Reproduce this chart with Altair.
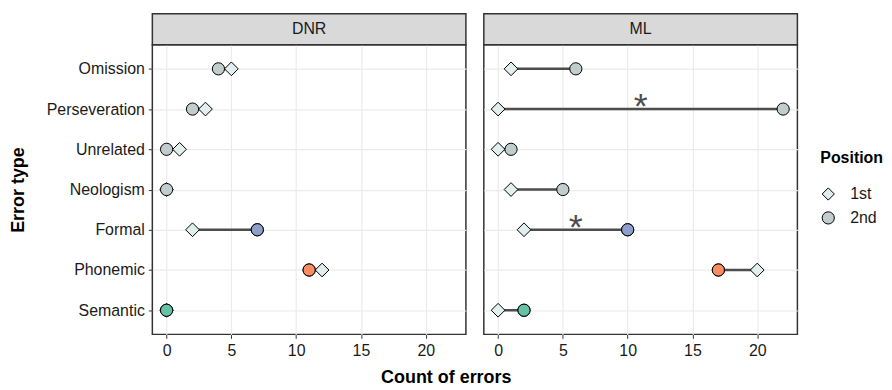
import altair as alt
import pandas as pd

# ---- data ----
error_types = ["Omission", "Perseveration", "Unrelated", "Neologism", "Formal", "Phonemic", "Semantic"]
panels = ["DNR", "ML"]
dnr_first = [5, 3, 1, 0, 2, 12, 0]
dnr_second = [4, 2, 0, 0, 7, 11, 0]
ml_first = [1, 0, 0, 1, 2, 20, 0]
ml_second = [6, 22, 1, 5, 10, 17, 2]
positions = ["1st", "2nd"]
position_fills = ["#E0EEEE", "#C1CDCD"]
position_sizes = [190, 150]
highlight_types = ["Formal", "Phonemic", "Semantic"]
highlight_colors = ["#8DA0CB", "#FC8D62", "#66C2A5"]
significant_dnr = []
significant_ml = ["Perseveration", "Formal"]
x_ticks = [0, 5, 10, 15, 20]

FONT = "Liberation Sans"
W, H, STRIP = 315, 291, 31
XDOM = [-1.1, 23.1]


def panel_chart(name, first, second, significant, show_y):
    seg = pd.DataFrame({"type": error_types, "first": first, "second": second})
    sig = seg[seg["type"].isin(significant)].copy()
    sig["mid"] = (sig["first"] + sig["second"]) / 2
    sig["label"] = "*"

    xscale = alt.Scale(domain=XDOM, nice=False, zero=False)
    yscale = alt.Scale(type="point", domain=error_types, padding=0.6)
    xaxis = alt.Axis(values=x_ticks, title=None, grid=True)
    if show_y:
        yaxis = alt.Axis(title="Error type", grid=True, titlePadding=19)
    else:
        yaxis = alt.Axis(title=None, labels=False, ticks=False, grid=True)

    shape_scale = alt.Scale(domain=positions, range=["diamond", "circle"])
    fill_scale = alt.Scale(domain=positions, range=position_fills)
    stroke_scale = alt.Scale(domain=positions, range=["black", "black"])

    segs = alt.Chart(seg).mark_rule(color="#4D4D4D", strokeWidth=2.5).encode(
        x=alt.X("first:Q", scale=xscale, axis=xaxis),
        x2="second:Q",
        y=alt.Y("type:N", scale=yscale, axis=yaxis),
    )
    layers = [segs]
    for pos, vals, sz in zip(positions, [first, second], position_sizes):
        df = pd.DataFrame({"type": error_types, "Position": pos, "count": vals})
        layers.append(
            alt.Chart(df).mark_point(filled=True, strokeWidth=1, opacity=1, size=sz).encode(
                x=alt.X("count:Q", scale=xscale),
                y=alt.Y("type:N", scale=yscale),
                shape=alt.Shape("Position:N", scale=shape_scale, title="Position"),
                fill=alt.Fill("Position:N", scale=fill_scale, title="Position"),
                stroke=alt.Stroke("Position:N", scale=stroke_scale, title="Position"),
            )
        )
    for t, c in zip(highlight_types, highlight_colors):
        hl = pd.DataFrame({"type": [t], "count": [second[error_types.index(t)]]})
        layers.append(
            alt.Chart(hl).mark_point(filled=True, fill=c, stroke="black", strokeWidth=1, opacity=1,
                                     shape="circle", size=position_sizes[1]).encode(
                x=alt.X("count:Q", scale=xscale),
                y=alt.Y("type:N", scale=yscale),
            )
        )
    if len(sig):
        stars = alt.Chart(sig).mark_text(fontSize=36, font=FONT, color="#4D4D4D", baseline="alphabetic",
                                         dy=9).encode(
            x=alt.X("mid:Q", scale=xscale),
            y=alt.Y("type:N", scale=yscale),
            text="label:N",
        )
        layers.append(stars)
    strip_df = pd.DataFrame({"panel": [name]})
    strip = alt.Chart(strip_df).mark_rect(fill="#D9D9D9", stroke="#333333", strokeWidth=1.5).encode(
        x=alt.value(0), x2=alt.value(W), y=alt.value(-STRIP), y2=alt.value(0)
    )
    strip_text = alt.Chart(strip_df).mark_text(fontSize=16, font=FONT, color="#1A1A1A").encode(
        x=alt.value(W / 2), y=alt.value(-STRIP / 2), text="panel:N"
    )
    layers += [strip, strip_text]
    return alt.layer(*layers).properties(width=W, height=H)


left = panel_chart("DNR", dnr_first, dnr_second, significant_dnr, True)
right = panel_chart("ML", ml_first, ml_second, significant_ml, False)

chart = alt.hconcat(left, right, spacing=14).resolve_scale(
    shape="shared", fill="shared", stroke="shared"
).properties(
    title=alt.TitleParams("Count of errors", orient="bottom", anchor="middle", fontSize=18,
                          font=FONT, fontWeight="bold", color="black", offset=10),
    padding={"left": 0, "top": 3, "right": 0, "bottom": 0},
).configure_view(
    stroke="#333333", strokeWidth=1.5
).configure_axis(
    gridColor="#EBEBEB", gridWidth=1.2, domain=False, tickColor="#333333", tickSize=4,
    labelFont=FONT, labelFontSize=16, labelColor="#1A1A1A", labelPadding=4,
    titleFont=FONT, titleFontSize=18, titleFontWeight="bold", titleColor="black",
).configure_legend(
    orient="none", legendX=671, legendY=106,
    titleFont=FONT, titleFontSize=16, titleFontWeight="bold", titleColor="black", titlePadding=20,
    labelFont=FONT, labelFontSize=16, labelColor="#1A1A1A", labelOffset=14,
    symbolSize=150, symbolStrokeWidth=1, rowPadding=6,
)

chart.save("out.html", embed_options={"renderer": "svg", "actions": False})
